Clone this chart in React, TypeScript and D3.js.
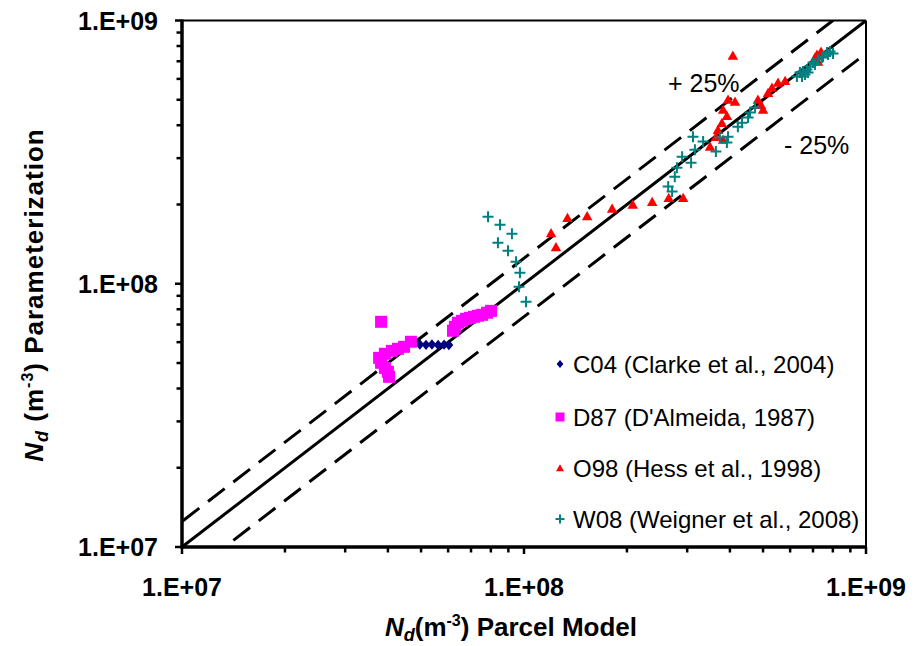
import React from 'react';
import * as d3 from 'd3';

// ---- data ----
const decadeTicks = [1e7, 1e8, 1e9];
const decadeLabels = ['1.E+07', '1.E+08', '1.E+09'];

const c04X = [4.96e7, 5.17e7, 5.38e7, 5.61e7, 5.84e7, 6.03e7];
const c04Y = [5.88e7, 5.86e7, 5.88e7, 5.85e7, 5.87e7, 5.85e7];

const d87X = [3.82e7, 3.77e7, 3.82e7, 3.92e7, 4.0e7, 4.03e7, 3.92e7, 4.11e7, 4.28e7, 4.46e7, 4.67e7,
  6.2e7, 6.28e7, 6.41e7, 6.59e7, 6.77e7, 6.95e7, 7.14e7, 7.34e7, 7.54e7, 7.8e7, 8.01e7];
const d87Y = [7.17e7, 5.23e7, 5.01e7, 4.79e7, 4.63e7, 4.43e7, 5.42e7, 5.56e7, 5.66e7, 5.76e7, 6.02e7,
  6.63e7, 6.86e7, 7.11e7, 7.23e7, 7.36e7, 7.42e7, 7.49e7, 7.56e7, 7.62e7, 7.76e7, 7.89e7];

const o98X = [1.2e8, 1.24e8, 1.34e8, 1.53e8, 1.81e8, 2.08e8, 2.37e8, 2.65e8, 2.92e8, 3.5e8, 3.64e8, 3.69e8,
  3.79e8, 3.82e8, 3.92e8, 3.82e8, 3.95e8, 4.14e8, 4.08e8, 4.83e8, 4.93e8, 5.0e8, 5.17e8, 5.31e8, 5.53e8,
  5.8e8, 7.09e8, 7.24e8, 7.19e8, 7.39e8];
const o98Y = [1.56e8, 1.38e8, 1.78e8, 1.81e8, 1.93e8, 2.0e8, 2.05e8, 2.12e8, 2.12e8, 3.32e8, 3.62e8, 3.85e8,
  4.09e8, 3.53e8, 4.35e8, 4.59e8, 5.01e8, 4.92e8, 7.36e8, 5.01e8, 4.79e8, 4.59e8, 5.32e8, 5.56e8, 5.81e8,
  5.91e8, 7.23e8, 6.98e8, 7.43e8, 7.62e8];

const w08X = [7.85e7, 8.51e7, 9.22e7, 8.39e7, 8.98e7, 9.48e7, 9.73e7, 9.67e7, 1.014e8,
  2.64e8, 2.71e8, 2.76e8, 2.8e8, 2.9e8, 3.08e8, 3.12e8, 3.16e8, 3.34e8, 3.64e8, 3.74e8, 3.92e8, 3.95e8,
  4.22e8, 4.34e8, 4.52e8, 4.58e8, 4.74e8,
  6.28e8, 6.41e8, 6.5e8, 6.54e8, 6.63e8, 6.72e8, 6.77e8, 6.86e8, 7.0e8, 7.09e8, 7.24e8, 7.44e8, 7.49e8,
  7.69e8, 7.74e8, 7.85e8, 8.01e8];
const w08Y = [1.798e8, 1.676e8, 1.549e8, 1.432e8, 1.335e8, 1.212e8, 1.101e8, 9.74e7, 8.54e7,
  2.34e8, 2.24e8, 2.55e8, 2.76e8, 3.04e8, 2.88e8, 3.62e8, 3.23e8, 3.47e8, 3.18e8, 3.59e8, 3.44e8, 3.62e8,
  3.95e8, 4.09e8, 4.28e8, 4.47e8, 4.67e8,
  6.13e8, 6.34e8, 6.13e8, 6.4e8, 6.23e8, 6.51e8, 6.34e8, 6.69e8, 6.92e8, 6.8e8, 7.11e8, 7.23e8, 7.3e8,
  7.56e8, 7.43e8, 7.62e8, 7.49e8];

const seriesNames = ['C04 (Clarke et al., 2004)', "D87 (D'Almeida, 1987)", 'O98 (Hess et al., 1998)', 'W08 (Weigner et al., 2008)'];
const refRatios = [1, 1.25, 0.75];
const refLabels = ['+ 25%', '- 25%'];

const FONT = '"Liberation Sans", Arial, Helvetica, sans-serif';
const NAVY = '#000080';
const PINK = '#FF00FF';
const RED = '#FF0000';
const TEAL = '#008080';

const diamond = (s: number) => `M0,${-s}L${s * 0.85},0L0,${s}L${-s * 0.85},0Z`;
const triangle = (s: number) => `M0,${-s}L${s * 1.05},${s * 0.85}L${-s * 1.05},${s * 0.85}Z`;
const plus = (s: number) => `M${-s},0H${s}M0,${-s}V${s}`;

export default function App() {
  const L = 182, R = 866, T = 20.5, B = 547;
  const x = d3.scaleLog().domain([1e7, 1e9]).range([L, R]);
  const y = d3.scaleLog().domain([1e7, 1e9]).range([B, T]);
  const allTicks = x.ticks();
  const isMajor = (v: number) => decadeTicks.some((d) => Math.abs(d - v) / d < 1e-6);

  const line = d3.line<[number, number]>().x((d) => x(d[0])).y((d) => y(d[1]));
  const refLine = (r: number) => {
    const lo = 1e5, hi = 1e11;
    return line([[lo, lo * r], [hi, hi * r]]);
  };

  const legendX = 560;
  const legendRows = [364, 417, 468, 519];

  return (
    <svg width={914} height={646} style={{ position: 'absolute', left: 0, top: 0, background: '#fff' }}
      fontFamily={FONT}>
      <defs>
        <clipPath id="plotClip">
          <rect x={L} y={T} width={R - L} height={B - T} />
        </clipPath>
      </defs>
      <rect x={0} y={0} width={914} height={646} fill="#fff" />

      {/* reference lines */}
      <g clipPath="url(#plotClip)" fill="none" stroke="#000" strokeWidth={3}>
        <path d={refLine(refRatios[0]) || ''} />
        <path d={refLine(refRatios[1]) || ''} strokeDasharray="21,11" />
        <path d={refLine(refRatios[2]) || ''} strokeDasharray="21,11" />
      </g>

      {/* frame */}
      <line x1={L} x2={R} y1={T} y2={T} stroke="#000" strokeWidth={2} />
      <line x1={R} x2={R} y1={T} y2={B} stroke="#000" strokeWidth={2} />

      {/* ticks */}
      <g stroke="#000" strokeWidth={2.5}>
        {allTicks.map((v, i) => (
          <line key={'xt' + i} x1={x(v)} x2={x(v)} y1={B} y2={B + (isMajor(v) ? 7 : 5.5)} />
        ))}
        {allTicks.map((v, i) => (
          <line key={'yt' + i} y1={y(v)} y2={y(v)} x1={L} x2={L - (isMajor(v) ? 7 : 5.5)} />
        ))}
      </g>
      <line x1={L} x2={L} y1={T - 1} y2={B + 1.5} stroke="#000" strokeWidth={3.5} />
      <line x1={L - 1.5} x2={R + 1} y1={B} y2={B} stroke="#000" strokeWidth={3.5} />

      {/* tick labels */}
      <g fontSize={25} fontWeight="bold" fill="#000">
        {decadeTicks.map((v, i) => (
          <text key={'xl' + i} x={x(v)} y={596} textAnchor="middle">{decadeLabels[i]}</text>
        ))}
        {decadeTicks.map((v, i) => (
          <text key={'yl' + i} x={158} y={y(v) + 9} textAnchor="end">{decadeLabels[i]}</text>
        ))}
      </g>

      {/* data */}
      <g clipPath="url(#plotClip)">
        {c04X.map((v, i) => (
          <path key={'c' + i} d={diamond(5.2)} transform={`translate(${x(v)},${y(c04Y[i])})`} fill={NAVY} />
        ))}
        {d87X.map((v, i) => (
          <rect key={'d' + i} x={x(v) - 6} y={y(d87Y[i]) - 6} width={12} height={12} fill={PINK} />
        ))}
        {o98X.map((v, i) => (
          <path key={'o' + i} d={triangle(5)} transform={`translate(${x(v)},${y(o98Y[i])})`} fill={RED} />
        ))}
        {w08X.map((v, i) => (
          <path key={'w' + i} d={plus(5.5)} transform={`translate(${x(v)},${y(w08Y[i])})`} stroke={TEAL}
            strokeWidth={2} fill="none" />
        ))}
      </g>

      {/* +/-25% labels */}
      <g fontSize={25} fill="#000">
        <text x={668} y={92}>{refLabels[0]}</text>
        <text x={784} y={154}>{refLabels[1]}</text>
      </g>

      {/* legend */}
      <g fontSize={24} fill="#000">
        <path d={diamond(4)} transform={`translate(${legendX},${legendRows[0]})`} fill={NAVY} />
        <rect x={legendX - 4.5} y={legendRows[1] - 4.5} width={9} height={9} fill={PINK} />
        <path d={triangle(3.8)} transform={`translate(${legendX},${legendRows[2]})`} fill={RED} />
        <path d={plus(4.5)} transform={`translate(${legendX},${legendRows[3]})`} stroke={TEAL} strokeWidth={2} fill="none" />
        {seriesNames.map((s, i) => (
          <text key={'lg' + i} x={573} y={legendRows[i] + 9}>{s}</text>
        ))}
      </g>

      {/* axis titles */}
      <text x={511} y={636} textAnchor="middle" fontSize={26} fontWeight="bold" fill="#000">
        <tspan fontStyle="italic">N</tspan>
        <tspan fontStyle="italic" fontSize={18} dy={5}>d</tspan>
        <tspan dy={-5}>(m</tspan>
        <tspan fontSize={16} dy={-10}>-3</tspan>
        <tspan dy={10}>) Parcel Model</tspan>
      </text>
      <text transform="translate(43,295) rotate(-90)" textAnchor="middle" fontSize={26} fontWeight="bold"
        letterSpacing={1} fill="#000">
        <tspan fontStyle="italic">N</tspan>
        <tspan fontStyle="italic" fontSize={18} dy={5}>d</tspan>
        <tspan dy={-5}> (m</tspan>
        <tspan fontSize={16} dy={-10}>-3</tspan>
        <tspan dy={10}>) Parameterization</tspan>
      </text>
    </svg>
  );
}
